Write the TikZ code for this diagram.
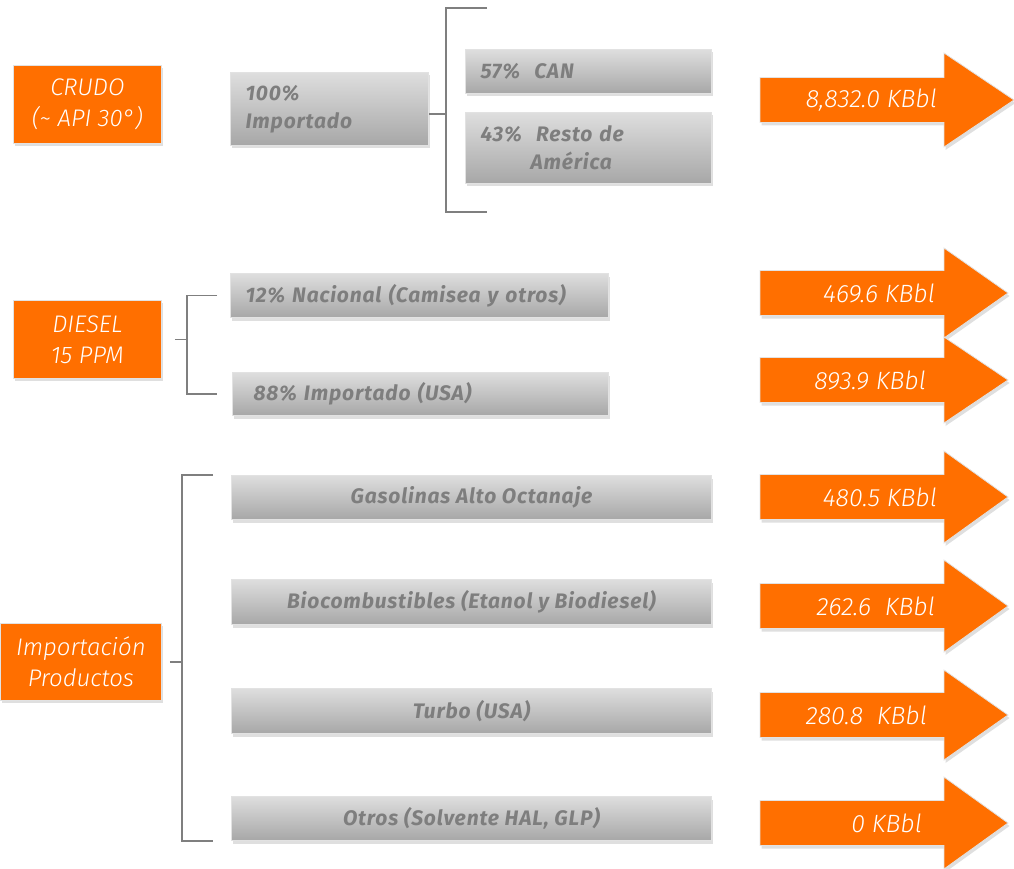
\documentclass[tikz,border=0pt]{standalone}
\usepackage{fontspec}
\setmainfont{Fira Sans}
\newfontfamily\lightit{Fira Sans Light Italic}
\newfontfamily\grisfont[LetterSpace=4]{Fira Sans Bold Italic}
\usetikzlibrary{positioning}
\usetikzlibrary{shadows}
\definecolor{naranja}{HTML}{FF6F00}
\definecolor{grisclaro}{HTML}{DEDEDE}
\definecolor{grisoscuro}{HTML}{A7A7A7}
\definecolor{gristexto}{HTML}{7E7E7E}
\definecolor{grislinea}{HTML}{7F7F7F}
\definecolor{borde}{HTML}{E2E2E2}
\tikzset{
  sombra/.style={drop shadow={shadow xshift=1.5pt, shadow yshift=-3pt, opacity=0.25}},
  origen/.style={anchor=north west, draw=borde, line width=0.8pt, fill=naranja, sombra,
    text=white, font=\lightit\fontsize{24}{31}\selectfont, align=center, inner sep=0pt},
  fuente/.style={anchor=north west, draw=borde, line width=1pt, top color=grisclaro,
    bottom color=grisoscuro, sombra, text=gristexto,
    font=\grisfont\fontsize{21}{28}\selectfont, inner sep=0pt},
  fuenteizq/.style={fuente, align=left, inner xsep=15pt},
  llave/.style={draw=grislinea, line width=1.5pt},
  flecha/.style={fill=naranja, draw=borde, line width=0.8pt, sombra},
  cifra/.style={anchor=east, text=white, font=\lightit\fontsize{25}{28}\selectfont, inner sep=0pt}
}
\begin{document}
\begin{tikzpicture}[x=1pt, y=-1pt]
  \useasboundingbox (0,0) rectangle (1014,869);

  % crudo
  \node [origen, minimum width=148pt, minimum height=78pt] (crudo) at (13,65) {CRUDO\\(\textasciitilde{} API 30°)};
  \node [fuenteizq, minimum width=198pt, minimum height=73pt, text width=168pt] (imp100) at (230,72) {100\%\\Importado};
  \node [fuenteizq, minimum width=246pt, minimum height=44pt, text width=216pt] (can) at (465,49) {57\%~~CAN};
  \node [fuenteizq, minimum width=246pt, minimum height=71pt, text width=216pt] (resto) at (465,112) {43\%~~Resto de\\\hspace*{50pt}América};

  \coordinate (crudoarriba) at (487,8);
  \coordinate (crudoabajo) at (487,212);
  \draw [llave] (crudoarriba) -- ++(-41,0) |- (crudoabajo);
  \draw [llave] ([yshift=-5pt]imp100.east) -- ++(18,0);

  % diesel
  \node [origen, minimum width=148pt, minimum height=78pt] (diesel) at (13,300) {DIESEL\\15 PPM};
  \node [fuenteizq, minimum width=378pt, minimum height=44pt, text width=348pt] (nacional) at (230,273) {12\% Nacional (Camisea y otros)};
  \node [fuenteizq, inner xsep=21pt, minimum width=376pt, minimum height=43pt, text width=334pt] (importado) at (232,372) {88\% Importado (USA)};

  \draw [llave] ([xshift=-13pt]nacional.west) -- ++(-30,0) |- ([xshift=-15pt]importado.west);
  \draw [llave] ([xshift=13pt]diesel.east) -- ++(13,0);

  % productos
  \node [origen, minimum width=161pt, minimum height=77pt] (importacion) at (0,623) {Importación\\Productos};
  \node [fuente, minimum width=480pt, minimum height=44pt] (gasolinas) at (231,475) {Gasolinas Alto Octanaje};
  \node [fuente, minimum width=480pt, minimum height=45pt] (bio) at (231,579) {Biocombustibles (Etanol y Biodiesel)};
  \node [fuente, minimum width=480pt, minimum height=45pt] (turbo) at (231,688) {Turbo (USA)};
  \node [fuente, minimum width=480pt, minimum height=44pt] (otros) at (231,796) {Otros (Solvente HAL, GLP)};

  \draw [llave] ([xshift=-18pt]gasolinas.north west) -- ++(-31,0) |- ([xshift=-18pt]otros.south west);
  \draw [llave] ([xshift=8pt]importacion.east) -- ++(13,0);

  % volumenes
  \foreach \y/\punta/\ala/\texto/\xt [count=\i] in {
      100/1014/47/{8,832.0 KBbl}/937,
      293/1008/45/{469.6 KBbl}/935,
      380/1008/43/{893.9 KBbl}/926,
      497/1008/46/{480.5 KBbl}/937,
      606/1008/46/{262.6~~KBbl}/935,
      715/1008/45/{280.8~~KBbl}/927,
      823/1008/46/{0 KBbl}/922} {
    \fill [flecha] (760,\y-22.5) -- (944,\y-22.5) -- (944,\y-\ala) -- (\punta,\y)
      -- (944,\y+\ala) -- (944,\y+22.5) -- (760,\y+22.5) -- cycle;
    \node [cifra] (vol\i) at (\xt,\y) {\texto};
  }
\end{tikzpicture}
\end{document}
